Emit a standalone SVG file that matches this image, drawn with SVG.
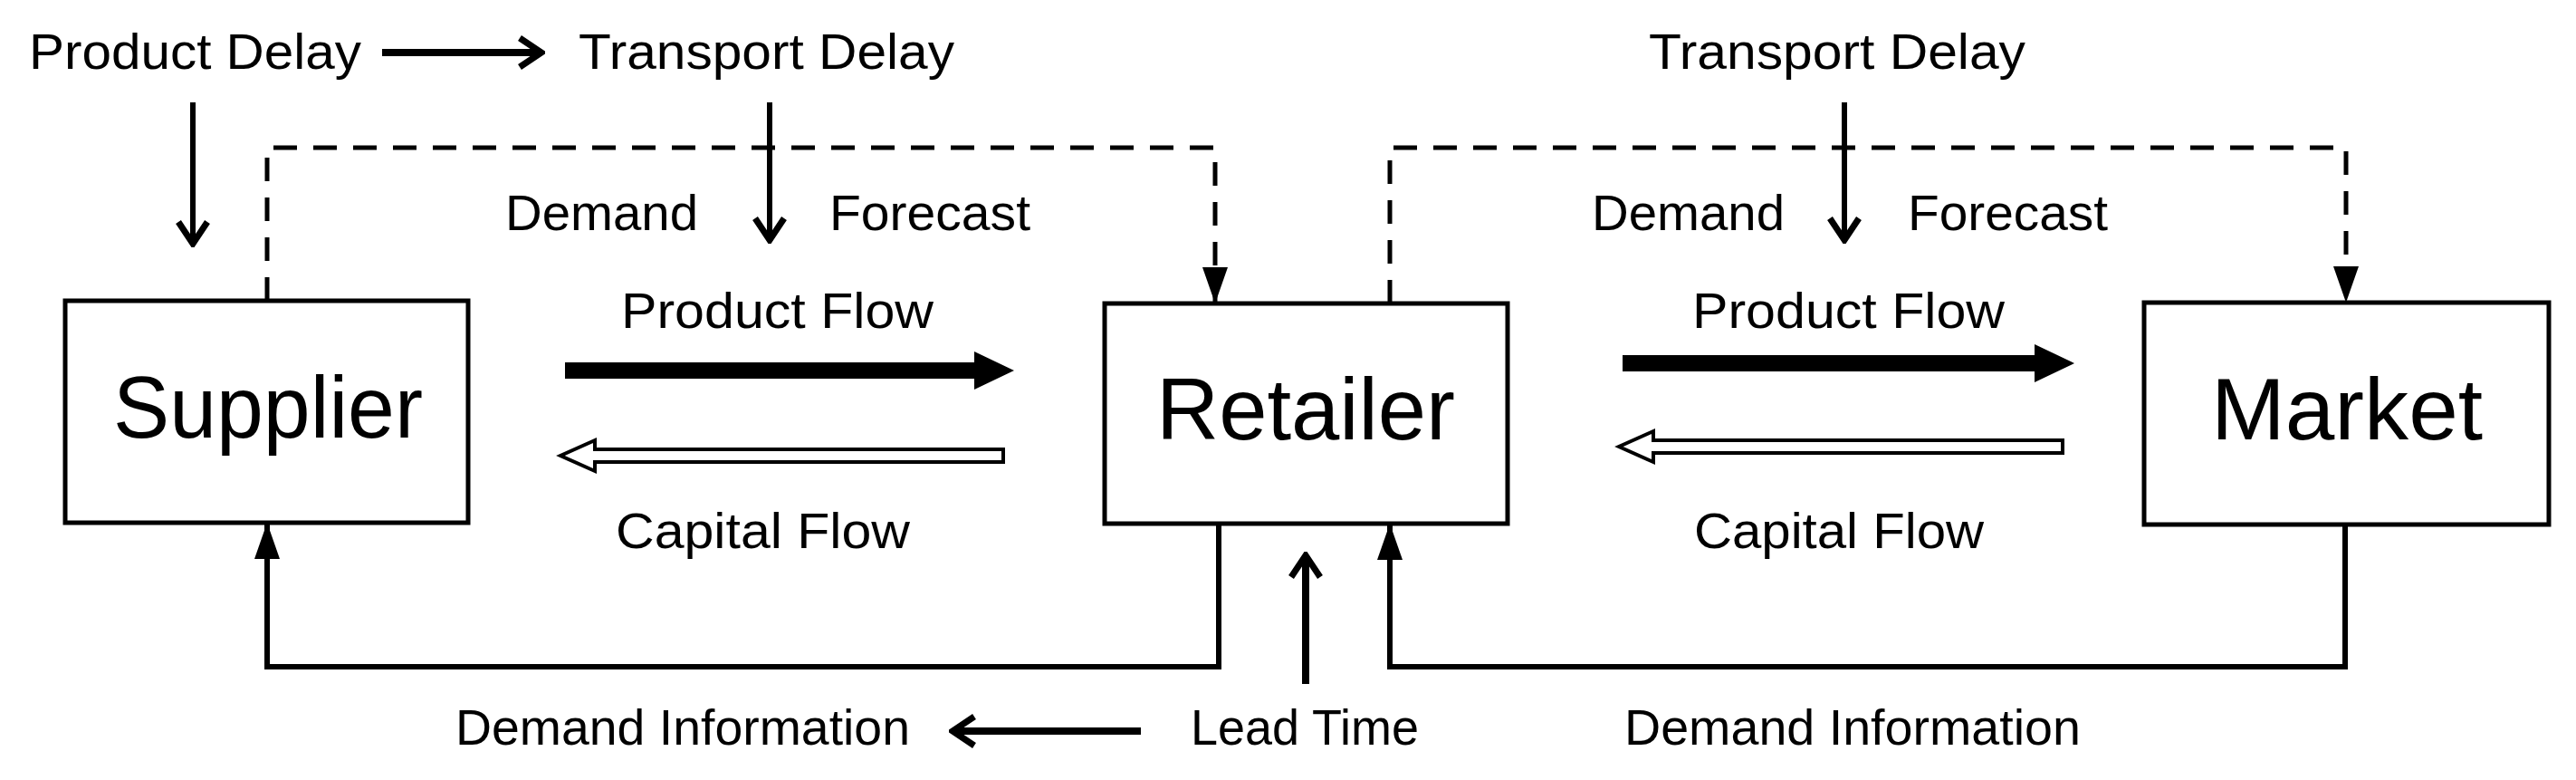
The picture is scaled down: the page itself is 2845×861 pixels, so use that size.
<svg xmlns="http://www.w3.org/2000/svg" width="2845" height="861" viewBox="0 0 2845 861">
<style>
text{font-family:"Liberation Sans",Arial,sans-serif;fill:#000}
.lbl{font-size:56px}
.big{font-size:96px;text-anchor:middle}
.box{fill:#fff;stroke:#000;stroke-width:5}
.ln{fill:none;stroke:#000;stroke-width:6}
.dash{fill:none;stroke:#000;stroke-width:5;stroke-dasharray:26 18}
.open{fill:none;stroke:#000;stroke-width:8}
</style>
<defs>
<marker id="tri" markerUnits="userSpaceOnUse" markerWidth="40" markerHeight="50" viewBox="0 0 40 50" refX="40" refY="25" orient="auto">
<path d="M0,11 L40,25 L0,39 Z" fill="#000"/>
</marker>
<marker id="vee" markerUnits="userSpaceOnUse" markerWidth="40" markerHeight="40" viewBox="0 0 40 40" refX="36" refY="20" orient="auto">
<path d="M12,4 L36,20 L12,36" fill="none" stroke="#000" stroke-width="7"/>
</marker>
</defs>
<g id="supplier"><rect class="box" x="72" y="332" width="445" height="245"/><text class="big" x="296" y="483" textLength="342" lengthAdjust="spacingAndGlyphs">Supplier</text></g>
<g id="retailer"><rect class="box" x="1220" y="335" width="445" height="243"/><text class="big" x="1442" y="485" textLength="330" lengthAdjust="spacingAndGlyphs">Retailer</text></g>
<g id="market"><rect class="box" x="2368" y="334" width="447" height="245"/><text class="big" x="2592" y="485" textLength="300" lengthAdjust="spacingAndGlyphs">Market</text></g>
<g id="labels" class="lbl">
<text x="32" y="76" textLength="367" lengthAdjust="spacingAndGlyphs">Product Delay</text>
<text x="639" y="76" textLength="415" lengthAdjust="spacingAndGlyphs">Transport Delay</text>
<text x="1821" y="76" textLength="416" lengthAdjust="spacingAndGlyphs">Transport Delay</text>
<text x="558" y="254" textLength="213" lengthAdjust="spacingAndGlyphs">Demand</text>
<text x="916" y="254" textLength="222" lengthAdjust="spacingAndGlyphs">Forecast</text>
<text x="1758" y="254" textLength="213" lengthAdjust="spacingAndGlyphs">Demand</text>
<text x="2107" y="254" textLength="221" lengthAdjust="spacingAndGlyphs">Forecast</text>
<text x="686" y="362" textLength="345" lengthAdjust="spacingAndGlyphs">Product Flow</text>
<text x="1869" y="362" textLength="345" lengthAdjust="spacingAndGlyphs">Product Flow</text>
<text x="680" y="605" textLength="325" lengthAdjust="spacingAndGlyphs">Capital Flow</text>
<text x="1871" y="605" textLength="320" lengthAdjust="spacingAndGlyphs">Capital Flow</text>
<text x="503" y="822" textLength="502" lengthAdjust="spacingAndGlyphs">Demand Information</text>
<text x="1315" y="822" textLength="252" lengthAdjust="spacingAndGlyphs">Lead Time</text>
<text x="1794" y="822" textLength="504" lengthAdjust="spacingAndGlyphs">Demand Information</text>
</g>
<g id="connectors">
<line class="open" x1="422" y1="58" x2="598" y2="58" marker-end="url(#vee)"/>
<line class="ln" x1="213" y1="113" x2="213" y2="269" marker-end="url(#vee)"/>
<line class="ln" x1="850" y1="113" x2="850" y2="265" marker-end="url(#vee)"/>
<line class="ln" x1="2037" y1="113" x2="2037" y2="265" marker-end="url(#vee)"/>
<path class="dash" d="M295,332 V163 H1342 V335" marker-end="url(#tri)"/>
<path class="dash" d="M1535,335 V163 H2591 V334" marker-end="url(#tri)"/>
<path d="M624,400 H1076 V388 L1120,409 L1076,430 V418 H624 Z" fill="#000"/>
<path d="M1792,392 H2247 V380 L2291,401 L2247,422 V410 H1792 Z" fill="#000"/>
<path d="M1108,496 H657 V486 L619,503 L657,520 V510 H1108 Z" fill="#fff" stroke="#000" stroke-width="4"/>
<path d="M2278,486 H1826 V476 L1788,493 L1826,510 V500 H2278 Z" fill="#fff" stroke="#000" stroke-width="4"/>
<path class="ln" d="M1346,578 V736 H295 V577" marker-end="url(#tri)"/>
<path class="ln" d="M2590,579 V736 H1535 V578" marker-end="url(#tri)"/>
<line class="open" x1="1260" y1="807" x2="1052" y2="807" marker-end="url(#vee)"/>
<line class="open" x1="1442" y1="755" x2="1442" y2="613" marker-end="url(#vee)"/>
</g>
</svg>
